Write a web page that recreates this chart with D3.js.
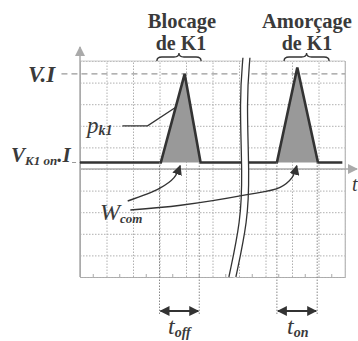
<!DOCTYPE html>
<html>
<head>
<meta charset="utf-8">
<script src="https://cdn.jsdelivr.net/npm/d3@7"></script>
<style>
  body { margin: 0; background: #fff; }
  text { font-family: "Liberation Serif", "DejaVu Serif", serif; fill: #3a3a3a; }
</style>
</head>
<body>
<svg id="drawing_region"></svg>
<script>
// données (unités de la grille : 10 x 10 carreaux)
const times = [0, 3.05, 3.95, 4.55, 7.43, 8.2, 8.98, 9.9];
const power = [5.3, 5.3, 9.4, 5.3, 5.3, 9.7, 5.3, 5.3];
const pulse1 = [[3.05, 5.3], [3.95, 9.4], [4.55, 5.3]];
const pulse2 = [[7.43, 5.3], [8.2, 9.7], [8.98, 5.3]];
const levelVI = 9.4;
const levelOn = 5.3;
const toff = [3.0, 4.5];
const ton = [7.43, 8.95];
const braces = [[2.9, 4.57], [7.7, 9.4]];
const breakLine = [[6.28, 10.15], [6.15, 8.2], [6.26, 4.7], [6.2, 2.6], [5.75, 0]];

const W = 358, H = 341;
const svg = d3.select('#drawing_region').attr('width', W).attr('height', H);

const x = d3.scaleLinear().domain([0, 10]).range([80, 345]);
const y = d3.scaleLinear().domain([0, 10]).range([277, 61]);

const dark = '#333';
const grey = '#aaa';

// flèches
const defs = svg.append('defs');
function marker(id, color, orient) {
    defs.append('marker')
        .attr('id', id).attr('viewBox', '0 0 10 10')
        .attr('refX', 9).attr('refY', 5)
        .attr('markerWidth', 10).attr('markerHeight', 10)
        .attr('markerUnits', 'userSpaceOnUse')
        .attr('orient', orient)
        .append('path').attr('d', 'M0,0 L10,5 L0,10 z').attr('fill', color);
}
marker('arr', dark, 'auto');
marker('arr2', dark, 'auto-start-reverse');
marker('axarr', grey, 'auto');

// grille
const grid = svg.append('g');
grid.append('g')
    .attr('transform', `translate(0, ${y(0)})`)
    .call(d3.axisBottom(x).ticks(10).tickSize(-(y(0) - y(10))).tickFormat(''))
    .call(g => g.select('.domain').attr('stroke', grey))
    .call(g => g.selectAll('.tick line').attr('stroke', '#b0b0b0').attr('stroke-dasharray', '1.5,1.5'));
grid.append('g')
    .attr('transform', `translate(${x(0)}, 0)`)
    .call(d3.axisLeft(y).ticks(10).tickSize(-(x(10) - x(0))).tickFormat(''))
    .call(g => g.select('.domain').remove())
    .call(g => g.selectAll('.tick line').attr('stroke', '#b0b0b0').attr('stroke-dasharray', '1.5,1.5'));
// petits traits sur le bord bas
grid.selectAll('.minor').data(d3.range(0.5, 10, 1)).enter().append('line')
    .attr('x1', d => x(d)).attr('x2', d => x(d))
    .attr('y1', y(0)).attr('y2', y(0) - 3)
    .attr('stroke', grey);
// bords haut et droite
grid.append('path')
    .attr('d', `M${x(0)},${y(10)} H${x(10)} V${y(0)}`)
    .attr('fill', 'none').attr('stroke', '#ccc');

// axes
svg.append('line')
    .attr('x1', x(0)).attr('y1', y(0)).attr('x2', x(0)).attr('y2', y(10) - 14)
    .attr('stroke', grey).attr('stroke-width', 1.5).attr('marker-end', 'url(#axarr)');
svg.append('line')
    .attr('x1', x(0)).attr('y1', y(5)).attr('x2', 357).attr('y2', y(5))
    .attr('stroke', grey).attr('stroke-width', 1.5).attr('marker-end', 'url(#axarr)');

// niveaux en pointillés
svg.append('line')
    .attr('x1', x(-0.7)).attr('x2', x(10)).attr('y1', y(levelVI)).attr('y2', y(levelVI))
    .attr('stroke', '#999').attr('stroke-width', 1.2).attr('stroke-dasharray', '6,4');
svg.append('line')
    .attr('x1', x(-0.3)).attr('x2', x(0)).attr('y1', y(levelOn)).attr('y2', y(levelOn))
    .attr('stroke', '#999').attr('stroke-width', 1.2).attr('stroke-dasharray', '4,3');

// surfaces Wcom
const area = d3.area().x(d => x(d[0])).y0(y(levelOn)).y1(d => y(d[1]));
[pulse1, pulse2].forEach(p => {
    svg.append('path').attr('d', area(p)).attr('fill', '#999');
});

// courbe pk1
const line = d3.line().x(d => x(d[0])).y(d => y(d[1]));
svg.append('path')
    .attr('d', line(d3.zip(times, power)))
    .attr('fill', 'none').attr('stroke', dark).attr('stroke-width', 2.6)
    .attr('stroke-linejoin', 'miter');

// repères toff / ton
[toff, ton].forEach(pair => {
    pair.forEach(t => {
        svg.append('line')
            .attr('x1', x(t)).attr('x2', x(t)).attr('y1', y(levelOn)).attr('y2', 314)
            .attr('stroke', '#888').attr('stroke-dasharray', '1.5,1.5');
    });
    svg.append('line')
        .attr('x1', x(pair[0]) + 1).attr('x2', x(pair[1]) - 1).attr('y1', 311).attr('y2', 311)
        .attr('stroke', dark).attr('stroke-width', 2)
        .attr('marker-start', 'url(#arr2)').attr('marker-end', 'url(#arr)');
});

// coupure de l'axe du temps
const bl = d3.line().x(d => x(d[0])).y(d => y(d[1])).curve(d3.curveBasis);
svg.append('path').attr('d', bl(breakLine))
    .attr('fill', 'none').attr('stroke', '#fff').attr('stroke-width', 8);
[-3.5, 3.5].forEach(off => {
    svg.append('path').attr('d', bl(breakLine))
        .attr('transform', `translate(${off}, 0)`)
        .attr('fill', 'none').attr('stroke', dark).attr('stroke-width', 1.3);
});

// accolades
function brace(x1, x2, yb) {
    const xm = (x1 + x2) / 2;
    return `M${x1},${yb + 4} Q${x1},${yb} ${x1 + 5},${yb} L${xm - 5},${yb} Q${xm},${yb} ${xm},${yb - 4}` +
           ` Q${xm},${yb} ${xm + 5},${yb} L${x2 - 5},${yb} Q${x2},${yb} ${x2},${yb + 4}`;
}
braces.forEach(b => {
    svg.append('path').attr('d', brace(x(b[0]), x(b[1]), 57))
        .attr('fill', 'none').attr('stroke', dark).attr('stroke-width', 1.3);
});

// annotation pk1
svg.append('path')
    .attr('d', line([[1.6, 7.0], [2.55, 7.0], [3.6, 7.85]]))
    .attr('fill', 'none').attr('stroke', dark).attr('stroke-width', 1.3);

// flèches Wcom
const cl = d3.line().x(d => x(d[0])).y(d => y(d[1])).curve(d3.curveCatmullRom);
svg.append('path')
    .attr('d', cl([[1.8, 3.52], [3.0, 4.1], [3.55, 4.6], [3.78, 5.15]]))
    .attr('fill', 'none').attr('stroke', dark).attr('stroke-width', 1.4).attr('marker-end', 'url(#arr)');
svg.append('path')
    .attr('d', cl([[1.9, 3.1], [3.8, 3.32], [6.25, 3.8], [7.55, 4.15], [8.0, 4.6], [8.18, 5.15]]))
    .attr('fill', 'none').attr('stroke', dark).attr('stroke-width', 1.4).attr('marker-end', 'url(#arr)');

// textes
const txt = (xx, yy, anchor) => svg.append('text').attr('x', xx).attr('y', yy).attr('text-anchor', anchor || 'start');

txt(182, 28, 'middle').attr('font-size', 20.5).attr('font-weight', 'bold').text('Blocage');
txt(181, 50, 'middle').attr('font-size', 20).attr('font-weight', 'bold').text('de K1');
txt(307, 28, 'middle').attr('font-size', 20.5).attr('font-weight', 'bold').text('Amorçage');
txt(307, 50, 'middle').attr('font-size', 20).attr('font-weight', 'bold').text('de K1');

txt(28, 82).attr('font-size', 23).attr('font-weight', 'bold').attr('font-style', 'italic').text('V.I');

const pk = txt(87, 133).attr('font-size', 23).attr('font-style', 'italic');
pk.append('tspan').text('p');
pk.append('tspan').attr('font-size', 14).attr('font-weight', 'bold').attr('dy', 2).text('k1');

const vk = txt(11, 162).attr('font-size', 21).attr('font-weight', 'bold').attr('font-style', 'italic');
vk.append('tspan').text('V');
vk.append('tspan').attr('font-size', 13).attr('dy', 3).text('K1 on');
vk.append('tspan').attr('dy', -3).text('.I');

const wc = txt(100, 220).attr('font-size', 24).attr('font-style', 'italic');
wc.append('tspan').text('W');
wc.append('tspan').attr('font-size', 13).attr('font-weight', 'bold').attr('dy', 3).text('com');

const tf = txt(168, 334).attr('font-size', 24).attr('font-style', 'italic');
tf.append('tspan').text('t');
tf.append('tspan').attr('font-size', 14).attr('font-weight', 'bold').attr('dy', 3).text('off');

const tn = txt(287, 334).attr('font-size', 24).attr('font-style', 'italic');
tn.append('tspan').text('t');
tn.append('tspan').attr('font-size', 14).attr('font-weight', 'bold').attr('dy', 3).text('on');

txt(352, 191).attr('font-size', 20).attr('font-style', 'italic').text('t');
</script>
</body>
</html>
